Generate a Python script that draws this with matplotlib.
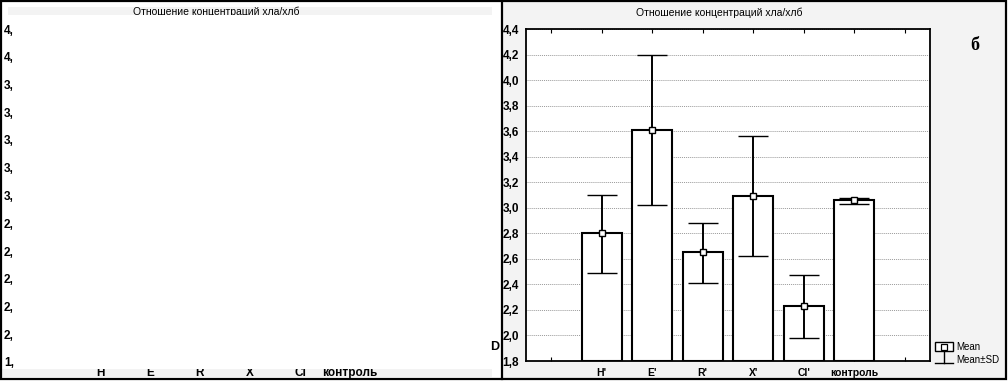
import matplotlib
matplotlib.use("Agg")
import matplotlib.pyplot as plt
from matplotlib.patches import Rectangle
from matplotlib.lines import Line2D
import numpy as np

plt.rcParams['font.family'] = ['Liberation Sans', 'DejaVu Sans']

# ---- data ----
title = "Отношение концентраций хла/хлб"
categories = ["H'", "E'", "R'", "X'", "Cl'", "контроль"]
means = [2.80, 3.61, 2.65, 3.09, 2.23, 3.06]
sd_upper = [3.10, 4.20, 2.88, 3.56, 2.47, 3.08]
sd_lower = [2.49, 3.02, 2.41, 2.62, 1.98, 3.03]
y_ticks = [1.8, 2.0, 2.2, 2.4, 2.6, 2.8, 3.0, 3.2, 3.4, 3.6, 3.8, 4.0, 4.2, 4.4]

left_categories = ["H", "E", "R", "X", "Cl", "контроль"]
left_y_ticks = [1.8, 2.0, 2.2, 2.4, 2.6, 2.8, 3.0, 3.2, 3.4, 3.6, 3.8, 4.0, 4.2]
left_y_labels = ["1,", "2,", "2,", "2,", "2,", "2,", "3,", "3,", "3,", "3,", "3,", "4,", "4,"]

W, H = 1008, 383
fig = plt.figure(figsize=(W / 100, H / 100), dpi=100)
fig.patch.set_facecolor('white')


def fx(x):
    return x / W


def fy(y):
    return 1 - y / H


def add_rect(x0, y0, x1, y1, **kw):
    r = Rectangle((fx(x0), fy(y1)), fx(x1) - fx(x0), fy(y0) - fy(y1),
                  transform=fig.transFigure, **kw)
    fig.add_artist(r)
    return r


# panel backgrounds
add_rect(503, 2, 1006, 379, facecolor='#f3f3f3', edgecolor='none', zorder=-5)
add_rect(8, 7, 492, 15, facecolor='#f3f3f3', edgecolor='none', zorder=-5)
add_rect(2, 369, 492, 377, facecolor='#f3f3f3', edgecolor='none', zorder=-5)

# ---- left (mostly hidden) panel ----
axl = fig.add_axes([fx(25), fy(362), fx(425) - fx(25), fy(29) - fy(362)])
axl.set_facecolor('none')
for s in axl.spines.values():
    s.set_visible(False)
axl.set_xlim(-0.5, 7.5)
axl.set_ylim(1.8, 4.2)
axl.set_xticks(np.arange(1, len(left_categories) + 1), left_categories)
axl.set_yticks(left_y_ticks, left_y_labels)
axl.tick_params(axis='both', length=0, labelsize=8.5)
axl.tick_params(axis='y', pad=(25 - 4) * 0.72)
axl.tick_params(axis='x', pad=3.5)
for lbl in axl.get_yticklabels():
    lbl.set_ha('left')
    lbl.set_fontweight('bold')
for lbl in axl.get_xticklabels():
    lbl.set_fontweight('bold')
fig.text(fx(216), fy(12), title, ha='center', va='center', fontsize=7.5, zorder=-1)
# cover (hidden chart area)
add_rect(15, 15, 489, 369, facecolor='white', edgecolor='none', zorder=2)
fig.text(fx(495), fy(347), "D", ha='center', va='center', fontsize=9,
         fontweight='bold', zorder=3)

# ---- right panel ----
ax = fig.add_axes([fx(526), fy(361), fx(930) - fx(526), fy(29) - fy(361)])
ax.set_facecolor('white')
x = np.arange(1, len(categories) + 1)
ax.bar(x, np.array(means) - 1.8, bottom=1.8, width=0.8, color='white',
       edgecolor='black', linewidth=1.5, zorder=2)
m = np.array(means)
yerr = [m - np.array(sd_lower), np.array(sd_upper) - m]
ax.errorbar(x, m, yerr=yerr, fmt='s', mfc='white', mec='black', mew=1.0, ms=5,
            ecolor='black', elinewidth=1.4, capsize=10.5, capthick=1.4, zorder=3)
ax.set_xlim(-0.5, 7.5)
ax.set_ylim(1.8, 4.4)
ax.set_xticks(np.arange(0, 8), [''] + categories + [''])
ax.set_yticks(y_ticks, [f"{v:.1f}".replace('.', ',') for v in y_ticks])
ax.tick_params(axis='x', direction='in', length=3, top=True, bottom=True,
               labelsize=7.5, pad=5, width=0.8)
ax.tick_params(axis='y', length=0, labelsize=8.5, pad=5)
for lbl in ax.get_yticklabels() + ax.get_xticklabels():
    lbl.set_fontweight('bold')
ax.grid(axis='y', linestyle=(0, (1, 1)), color='#9a9a9a', linewidth=0.7, zorder=0)
ax.set_axisbelow(True)
for s in ax.spines.values():
    s.set_linewidth(1.3)

fig.text(fx(719), fy(13), title, ha='center', va='center', fontsize=7.5)
fig.text(fx(975), fy(45), "б", ha='center', va='center', fontsize=13,
         fontweight='bold', family=['Liberation Serif', 'DejaVu Serif'])

# legend (manual)
add_rect(935, 342, 953, 351, facecolor='white', edgecolor='black', linewidth=1.0, zorder=4)
fig.add_artist(Line2D([fx(944)], [fy(346.5)], marker='s', ms=4.5, mfc='white',
                      mec='black', mew=0.9, transform=fig.transFigure, zorder=5))
fig.add_artist(Line2D([fx(944), fx(944)], [fy(351), fy(363)], color='black', lw=1.0,
                      transform=fig.transFigure, zorder=4))
fig.add_artist(Line2D([fx(935), fx(953)], [fy(363), fy(363)], color='black', lw=1.0,
                      transform=fig.transFigure, zorder=4))
fig.text(fx(956), fy(347), "Mean", ha='left', va='center', fontsize=7)
fig.text(fx(956), fy(360), "Mean±SD", ha='left', va='center', fontsize=7)

# borders
add_rect(1, 1, 1006, 379, facecolor='none', edgecolor='black', linewidth=1.6, zorder=10)
fig.add_artist(Line2D([fx(502), fx(502)], [fy(1), fy(379)], color='black', lw=1.6,
                      transform=fig.transFigure, zorder=10))

fig.savefig("out.png", dpi=100)
